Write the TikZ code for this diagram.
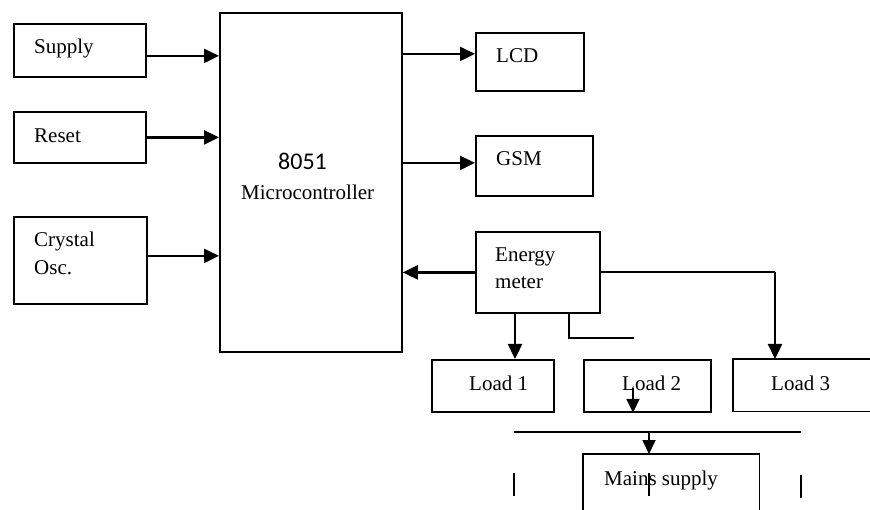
\documentclass[tikz,border=0pt]{standalone}
\usepackage{fontspec}
\setmainfont{Liberation Serif}
\newfontfamily\calibri{Carlito}
\usetikzlibrary{arrows.meta}
\begin{document}
\begin{tikzpicture}[x=1pt,y=-1pt,
  box/.style={draw,line width=1.8pt,inner sep=0pt,anchor=north west},
  ghost/.style={inner sep=0pt,anchor=north west},
  lbl/.style={anchor=base west,inner sep=0pt,font=\fontsize{21}{26}\selectfont},
  arr/.style={line width=2.4pt,-{Triangle[length=15pt,width=14pt]}},
  sarr/.style={line width=1.8pt,-{Triangle[length=14pt,width=13pt]}},
  wire/.style={line width=1.8pt}]
\useasboundingbox (0,0) rectangle (870,510);
% boxes
\node[box,minimum width=132pt,minimum height=53pt] (supply) at (13,23) {};
\node[box,minimum width=132pt,minimum height=51pt] (reset) at (13,111) {};
\node[box,minimum width=133pt,minimum height=87pt] (crystal) at (13,216) {};
\node[box,minimum width=182pt,minimum height=339pt] (mcu) at (219,12) {};
\node[box,minimum width=108pt,minimum height=58pt] (lcd) at (475,32) {};
\node[box,minimum width=117pt,minimum height=60pt] (gsm) at (475,135) {};
\node[box,minimum width=124pt,minimum height=81pt] (energy) at (475,231) {};
\node[box,minimum width=122pt,minimum height=52pt] (load1) at (431,359) {};
\node[box,minimum width=127pt,minimum height=52pt] (load2) at (583,359) {};
\node[ghost,minimum width=137pt,minimum height=52pt] (load3) at (733,359) {};
\draw[wire] (load3.north east) -- (load3.north west) -- (load3.south west) -- (load3.south east);
\node[ghost,minimum width=176pt,minimum height=60pt] (mains) at (583,454) {};
\draw[wire] (mains.south west) -- (mains.north west) -- (mains.north east) -- (mains.south east);
% texts
\node[lbl] (tsupply) at (34,54) {Supply};
\node[lbl] (treset) at (34,143) {Reset};
\node[lbl] (tcrys) at (34,247) {Crystal};
\node[lbl] (tosc) at (34,275) {Osc.};
\node[lbl,font=\calibri\fontsize{24}{28}\selectfont] (t8051) at (278,170) {8051};
\node[lbl] (tmicro) at (241,200) {Microcontroller};
\node[lbl] (tlcd) at (496,63) {LCD};
\node[lbl] (tgsm) at (496,166) {GSM};
\node[lbl] (tenergy) at (495,262) {Energy};
\node[lbl] (tmeter) at (495,289) {meter};
\node[lbl] (tl1) at (469,391) {Load 1};
\node[lbl] (tl2) at (622,391) {Load 2};
\node[lbl] (tl3) at (771,391) {Load 3};
\node[lbl] (tmains) at (604,485) {Mains supply};
% connectors
\draw[arr] ([yshift=-5.5pt]supply.east) -- ([yshift=-5.5pt]supply.east -| mcu.west);
\draw[arr] (reset.east) -- (reset.east -| mcu.west);
\draw[arr] ([yshift=4.5pt]crystal.east) -- ([yshift=4.5pt]crystal.east -| mcu.west);
\draw[arr] ([yshift=8pt]lcd.west -| mcu.east) -- ([yshift=8pt]lcd.west);
\draw[arr] ([yshift=3pt]gsm.west -| mcu.east) -- ([yshift=3pt]gsm.west);
\draw[arr] (energy.west) -- (energy.west -| mcu.east);
\coordinate (l3drop) at (775,359);
\draw[wire] (energy.east) -- (energy.east -| l3drop);
\draw[arr] (energy.east -| l3drop) -- (l3drop);
\draw[arr] ([xshift=40pt]energy.south west) -- ([xshift=40pt]energy.south west |- load1.north);
\coordinate (stub) at (634,338);
\draw[wire] ([xshift=94pt]energy.south west) |- (stub);
\coordinate (l2a) at (633,388);
\draw[sarr] (l2a) -- (l2a |- load2.south);
\coordinate (busL) at (514,432);
\coordinate (busR) at (801,432);
\coordinate (busM) at (649,432);
\draw[wire] (busL) -- (busR);
\draw[sarr] (busM) -- (busM |- mains.north);
% ticks
\coordinate (k1) at (514,473);
\coordinate (k2) at (649,473);
\coordinate (k3) at (801,475);
\draw[wire] (k1) -- ++(0,23);
\draw[wire] (k2) -- ++(0,23);
\draw[wire] (k3) -- ++(0,23);
\end{tikzpicture}
\end{document}
